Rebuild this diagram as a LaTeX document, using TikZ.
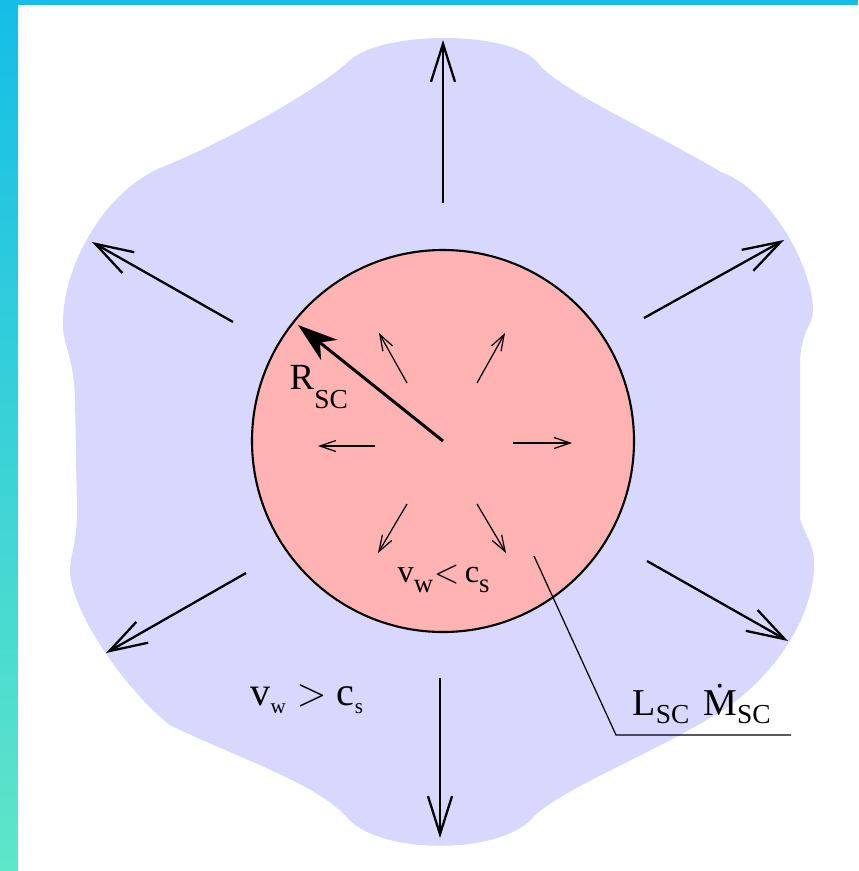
\documentclass[tikz,border=0pt]{standalone}
\usepackage{fontspec}
\setmainfont{Liberation Serif}
\usepackage{tikz}
\usetikzlibrary{arrows.meta}

\definecolor{windblue}{RGB}{216,216,255}
\definecolor{corepink}{RGB}{255,179,179}
\definecolor{edgecyan}{RGB}{21,190,230}
\definecolor{edgeteal}{RGB}{94,230,200}

\begin{document}
\begin{tikzpicture}[x=0.1mm, y=-0.1mm,
  every node/.style={font=\fontsize{10.5}{12}\selectfont, inner sep=0pt},
  wind/.style={line width=0.65pt, -{Straight Barb[length=3.8mm, width=2.4mm, line width=0.65pt]}},
  flow/.style={line width=0.35pt, -{Straight Barb[length=1.6mm, width=1.1mm, line width=0.35pt]}}]
  \useasboundingbox (0,0) rectangle (858,871);
  \fill[white] (0,0) rectangle (858,871);

  % outer supersonic wind region
  \fill[windblue] (348,62) .. controls (380,30) and (510,30) .. (537,62)
    .. controls (555,88) and (650,130) .. (721,172)
    .. controls (770,190) and (812,265) .. (813,310)
    .. controls (813,325) and (801,330) .. (800,362)
    -- (800,518)
    .. controls (804,535) and (816,545) .. (814,570)
    .. controls (810,625) and (770,680) .. (720,712)
    .. controls (650,755) and (570,785) .. (535,815)
    .. controls (505,856) and (375,856) .. (345,815)
    .. controls (310,780) and (230,755) .. (170,725)
    .. controls (125,690) and (70,610) .. (70,570)
    .. controls (70,555) and (77,545) .. (77,510)
    -- (75,400)
    .. controls (74,355) and (62,345) .. (63,322)
    .. controls (63,270) and (100,195) .. (160,168)
    .. controls (230,140) and (320,88) .. (348,62) -- cycle;

  % core
  \node[circle, draw, line width=0.6pt, fill=corepink, minimum size=38.2mm] (core) at (443,441) {};
  \coordinate (c) at (443,441);

  % outward wind
  \coordinate (n0) at (443,203); \coordinate (n1) at (443,40);
  \coordinate (s0) at (440,678); \coordinate (s1) at (440,838);
  \coordinate (nw0) at (233,322); \coordinate (nw1) at (92,242);
  \coordinate (ne0) at (644,318); \coordinate (ne1) at (784,240);
  \coordinate (sw0) at (246,573); \coordinate (sw1) at (106,653);
  \coordinate (se0) at (647,561); \coordinate (se1) at (788,641);
  \draw[wind] (n0) -- (n1);
  \draw[wind] (s0) -- (s1);
  \draw[wind] (nw0) -- (nw1);
  \draw[wind] (ne0) -- (ne1);
  \draw[wind] (sw0) -- (sw1);
  \draw[wind] (se0) -- (se1);

  % subsonic flow inside
  \coordinate (l0) at (375,446); \coordinate (l1) at (318,446);
  \coordinate (r0) at (513,443); \coordinate (r1) at (572,443);
  \coordinate (ul0) at (407,383); \coordinate (ul1) at (379,333);
  \coordinate (ur0) at (477,383); \coordinate (ur1) at (505,333);
  \coordinate (dl0) at (407,504); \coordinate (dl1) at (378,553);
  \coordinate (dr0) at (477,504); \coordinate (dr1) at (506,553);
  \draw[flow] (l0) -- (l1);
  \draw[flow] (r0) -- (r1);
  \draw[flow] (ul0) -- (ul1);
  \draw[flow] (ur0) -- (ur1);
  \draw[flow] (dl0) -- (dl1);
  \draw[flow] (dr0) -- (dr1);

  % radius
  \coordinate (rim) at (298,325);
  \draw[line width=0.85pt, -{Stealth[length=4mm, width=2.6mm, inset=1.2mm]}] (c) -- (rim);
  \node[anchor=base west] (rsc) at (289,389) {R\raisebox{-5.5pt}{\fontsize{7.8}{9}\selectfont SC}};

  % labels
  \node[anchor=base west, font=\fontsize{9.2}{11}\selectfont] (inner) at (397,582)
    {v\raisebox{-3pt}{\fontsize{7.6}{9}\selectfont w}\kern0.3pt$<$\kern1.5pt c\raisebox{-3pt}{\fontsize{7.6}{9}\selectfont s}};
  \node[anchor=base west, font=\fontsize{11.4}{13}\selectfont] (outer) at (250,705)
    {v\raisebox{-2.3pt}{\fontsize{6}{7}\selectfont w}\kern3pt$>$\kern3pt c\raisebox{-2.3pt}{\fontsize{6}{7}\selectfont s}};
  \node[anchor=base west, font=\fontsize{10.8}{12}\selectfont] (lum) at (632,715)
    {L\raisebox{-2.3pt}{\fontsize{7.8}{9}\selectfont SC}\kern4pt\.{M}\raisebox{-2.3pt}{\fontsize{7.8}{9}\selectfont SC}};
  \coordinate (tag0) at (534,556);
  \coordinate (tag1) at (616,735);
  \coordinate (tag2) at (791,735);
  \draw[line width=0.35pt] (tag0) -- (tag1) -- (tag2);

  % frame
  \shade[top color=edgecyan, bottom color=edgeteal] (0,0) rectangle (18,871);
  \fill[edgecyan] (0,0) rectangle (858,5);
\end{tikzpicture}
\end{document}
